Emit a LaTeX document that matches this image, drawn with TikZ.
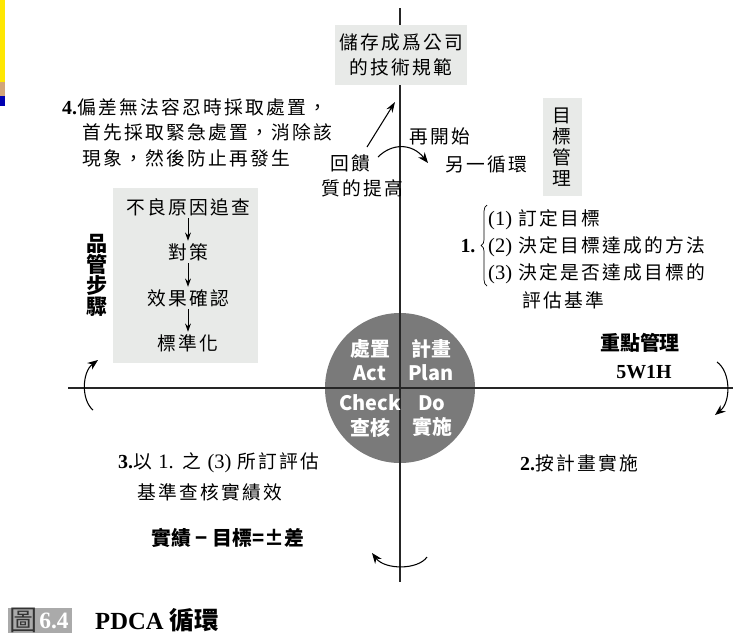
\documentclass[tikz,border=0pt]{standalone}
\usepackage{fontspec}
\setmainfont{Liberation Serif}
\newfontfamily\cjk[LetterSpace=12]{Noto Sans CJK TC}
\newfontfamily\cjkhei{Noto Sans CJK TC}
\usetikzlibrary{positioning,arrows.meta}
\usetikzlibrary{decorations.pathreplacing}
\definecolor{boxgray}{RGB}{232,234,232}
\definecolor{pdcagray}{RGB}{122,122,122}
\definecolor{capgray}{RGB}{170,170,170}
\newcommand{\rmnum}[1]{{\rmfamily\bfseries\fontsize{17}{20}\selectfont #1}}
\newcommand{\rmtxt}[1]{{\rmfamily\fontsize{17.5}{20}\selectfont #1}}
\tikzstyle{zh} = [font=\cjk\fontsize{16}{21}\selectfont, inner sep=0pt]
\tikzstyle{hei} = [font=\cjkhei\bfseries\fontsize{17}{18}\selectfont, inner sep=0pt]
\tikzstyle{circtext} = [font=\cjkhei\bfseries\fontsize{17}{21}\selectfont, text=white, align=center, inner sep=0pt]
\tikzstyle{graybox} = [fill=boxgray, inner sep=0pt]
\tikzstyle{cyc} = [line width=0.9pt, -{Stealth[length=9pt,width=7pt]}]
\tikzstyle{flowarr} = [line width=0.8pt, -{Stealth[length=7pt,width=5pt]}, shorten <=2pt, shorten >=2pt]
\tikzstyle{axis} = [line width=1.3pt, black!85]

\begin{document}
\begin{tikzpicture}[x=0.03cm, y=-0.03cm]
\useasboundingbox (0,0) rectangle (747,633);

% scanned page edge
\fill[yellow!90!orange] (0,0) rectangle (5,82);
\fill[brown!70] (0,82) rectangle (5,96);
\fill[blue!70!black] (0,96) rectangle (5,106);

% wheel
\node[circle, fill=pdcagray, minimum size=4.5cm, inner sep=0pt] (wheel) at (400,388) {};

\draw[axis] (400,8) coordinate (v_1) -- (400,582) coordinate (v_2);
\draw[axis] (68,388) coordinate (h_1) -- (733,388) coordinate (h_2);

\node[circtext] (act) at (370,360) {處置\\Act};
\node[circtext] (plan) at (431,360) {計畫\\Plan};
\node[circtext] (check) at (370,416) {Check\\查核};
\node[circtext] (do) at (432,416) {Do\\實施};

% top
\node[graybox, zh, minimum width=3.96cm, minimum height=1.8cm, align=center] (store) at (401,55) {儲存成爲公司\\的技術規範};

\node[zh] (fb) at (350,163) {回饋};
\node[zh] (qual) at (362,188) {質的提高};
\draw[line width=0.9pt, -{Stealth[length=9pt,width=6pt]}] (367,147) coordinate (fb_1) -- (395,102) coordinate (fb_2);

\node[zh] (restart) at (440,136) {再開始};
\node[zh] (newcyc) at (486,164) {另一循環};
\draw[cyc] (378,157) coordinate (t_1) .. controls (392,143) and (412,143) .. (428,163) coordinate (t_2);

% act
\node[zh, anchor=west] (dev_1) at (62,107) {\rmnum{4.}偏差無法容忍時採取處置，};
\node[zh, anchor=west] (dev_2) at (82,132) {首先採取緊急處置，消除該};
\node[zh, anchor=west] (dev_3) at (82,158) {現象，然後防止再發生};

\node[graybox, minimum width=4.35cm, minimum height=5.25cm] (stepbox) at (185.5,275.5) {};
\node[zh] (cause) at (188,207) {不良原因追查};
\node[zh] (measure) at (188,252) {對策};
\node[zh] (effect) at (188,298) {效果確認};
\node[zh] (standard) at (188,343) {標準化};
\draw[flowarr] (cause) -- (measure);
\draw[flowarr] (measure) -- (effect);
\draw[flowarr] (effect) -- (standard);

\node[hei, align=center, font=\cjkhei\bfseries\fontsize{18}{18}\selectfont] (qcsteps) at (97,275) {品\\管\\步\\驟};

% plan
\node[graybox, align=center, inner sep=0pt, font=\cjk\fontsize{16}{18}\selectfont, minimum width=1.17cm, minimum height=2.94cm] (mbo) at (562,147) {目\\標\\管\\理};

\node[zh] (plan_1) at (468,246) {\rmnum{1.}};
\draw[decorate, decoration={brace, amplitude=5pt}, line width=0.6pt] (487,286) coordinate (br_1) -- (487,205) coordinate (br_2);
\node[zh, anchor=west] (goal_1) at (488,220) {\rmtxt{(1)} 訂定目標};
\node[zh, anchor=west] (goal_2) at (488,247) {\rmtxt{(2)} 決定目標達成的方法};
\node[zh, anchor=west] (goal_3) at (488,274) {\rmtxt{(3)} 決定是否達成目標的};
\node[zh, anchor=west] (goal_4) at (522,300) {評估基準};

\node[hei] (focus) at (640,343) {重點管理};
\node[inner sep=0pt, font=\rmfamily\bfseries\fontsize{17}{20}\selectfont] (fivew) at (644,372) {5W1H};

% do, check
\node[zh, anchor=west] (do_txt) at (520,463) {\rmnum{2.}按計畫實施};
\node[zh, anchor=west] (check_1) at (118,463) {\rmnum{3.}以 \rmtxt{1.} 之 \rmtxt{(3)} 所訂評估};
\node[zh, anchor=west] (check_2) at (137,492) {基準查核實績效};
\node[hei] (diff) at (228,538) {實績 − 目標=±差};

% cycle arrows
\draw[cyc] (717,362) coordinate (r_1) .. controls (731,372) and (731,402) .. (715,415) coordinate (r_2);
\draw[cyc] (427,557) coordinate (b_1) .. controls (418,570) and (385,570) .. (372,553) coordinate (b_2);
\draw[cyc] (93,410) coordinate (l_1) .. controls (81,400) and (82,372) .. (98,360) coordinate (l_2);

% caption
\node[fill=capgray, minimum width=1.9cm, minimum height=0.75cm, anchor=north west, inner sep=0pt] (figtag) at (8,608) {};
\node[inner sep=0pt, font=\cjkhei\fontsize{24}{26}\selectfont, text=black!80] (figchar) at (24,620) {圖};
\node[inner sep=0pt, font=\rmfamily\bfseries\fontsize{20}{22}\selectfont, text=white] (fignum) at (54,621) {6.4};
\node[anchor=west, inner sep=0pt, font=\rmfamily\bfseries\fontsize{21}{24}\selectfont] (figtitle) at (95,620) {PDCA {\cjkhei 循環}};

\end{tikzpicture}
\end{document}
